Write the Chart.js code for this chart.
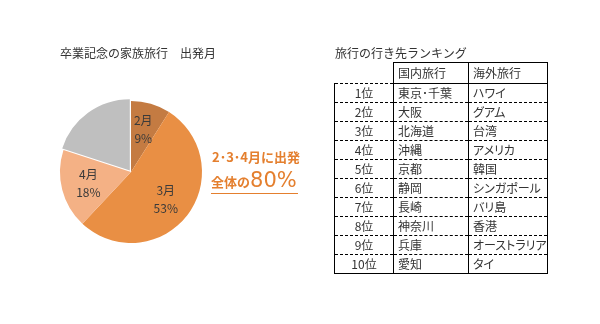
<!DOCTYPE html>
<html lang="ja">
<head>
<meta charset="utf-8">
<script src="https://cdn.jsdelivr.net/npm/chart.js@4"></script>
<style>
    html, body { margin: 0; padding: 0; background: #fff; }
    body { width: 600px; height: 324px; position: relative; overflow: hidden;
           font-family: "Noto Sans CJK JP", sans-serif; color: #333; }
    #pie { position: absolute; left: 0; top: 0; }
    .title { position: absolute; font-size: 12px; line-height: 14px; white-space: nowrap; }
    #pie-title { left: 60px; top: 46px; }
    #rank-title { left: 335px; top: 46px; }
    #note1 { position: absolute; left: 212px; top: 149px; font-size: 13px; font-weight: bold;
             color: #e47f2e; white-space: nowrap; line-height: 16px; }
    #note2 { position: absolute; left: 211px; top: 169px; color: #e47f2e; white-space: nowrap;
             border-bottom: 1.5px solid #e47f2e; line-height: 22px; padding-right: 1px; }
    #note2 .s { font-size: 13px; font-weight: bold; }
    #note2 .b { font-family: "DejaVu Sans", sans-serif; font-size: 21px; }
    table { position: absolute; left: 334px; top: 62px; border-collapse: collapse;
            table-layout: fixed; font-size: 12px; color: #333; font-feature-settings: "palt"; }
    td { padding: 0 0 0 4px; height: 18px; line-height: 18px; white-space: nowrap;
         border-left: 1px solid #000; border-right: 1px solid #000;
         border-top: 1px dashed #000; border-bottom: 1px dashed #000; }
    tr.head td { height: 20px; border-top: 1px solid #000; border-bottom: 1px solid #000; }
    tr.head td.blank { border: none; }
    tr:last-child td { border-bottom: 1px solid #000; }
    td.rank { text-align: center; padding: 0; }
</style>
</head>
<body>
<canvas id="pie" width="600" height="324"></canvas>
<div class="title" id="pie-title">卒業記念の家族旅行　出発月</div>
<div class="title" id="rank-title">旅行の行き先ランキング</div>
<div id="note1">2･3･4月に出発</div>
<div id="note2"><span class="s">全体の</span><span class="b">80%</span></div>
<table id="rank">
    <colgroup><col style="width:59px"><col style="width:75px"><col style="width:76px"></colgroup>
    <tbody></tbody>
</table>
<script>
// 出発月の割合 (%)
const months = ['2月', '3月', '4月', 'その他'];
const shares = [9, 53, 18, 20];
const sliceColors = ['#c47b42', '#e98f44', '#f4b185', '#bfbfbf'];

// 行き先ランキング
const ranks = ['1位', '2位', '3位', '4位', '5位', '6位', '7位', '8位', '9位', '10位'];
const domestic = ['東京･千葉', '大阪', '北海道', '沖縄', '京都', '静岡', '長崎', '神奈川', '兵庫', '愛知'];
const overseas = ['ハワイ', 'グアム', '台湾', 'アメリカ', '韓国', 'シンガポール', 'バリ島', '香港', 'オーストラリア', 'タイ'];
const columnHeads = ['', '国内旅行', '海外旅行'];

// ランキング表
const tbody = document.querySelector('#rank tbody');
let html = '<tr class="head"><td class="blank"></td><td>' + columnHeads[1] + '</td><td>' + columnHeads[2] + '</td></tr>';
ranks.forEach((r, i) => {
    html += '<tr><td class="rank">' + r + '</td><td>' + domestic[i] + '</td><td>' + overseas[i] + '</td></tr>';
});
tbody.innerHTML = html;

// スライス内のラベル (月 + %)
const sliceLabels = {
    id: 'sliceLabels',
    afterDatasetsDraw(chart) {
        const ctx = chart.ctx;
        const data = chart.data.datasets[0].data;
        const total = data.reduce((a, b) => a + b, 0);
        ctx.save();
        ctx.fillStyle = '#3a3a3a';
        ctx.font = '12px "Noto Sans CJK JP"';
        ctx.textAlign = 'center';
        ctx.textBaseline = 'middle';
        chart.getDatasetMeta(0).data.forEach((arc, i) => {
            if (chart.data.labels[i] === 'その他') return;
            const p = arc.getProps(['x', 'y', 'startAngle', 'endAngle', 'outerRadius'], true);
            const mid = (p.startAngle + p.endAngle) / 2;
            const r = p.outerRadius * 0.62;
            const cx = p.x + Math.cos(mid) * r;
            const cy = p.y + Math.sin(mid) * r;
            ctx.fillText(chart.data.labels[i], cx, cy - 9);
            ctx.fillText(Math.round(data[i] / total * 100) + '%', cx, cy + 9);
        });
        ctx.restore();
    }
};

new Chart(document.getElementById('pie'), {
    type: 'pie',
    data: {
        labels: months,
        datasets: [{
            data: shares,
            backgroundColor: sliceColors,
            borderWidth: 0,
            offset: [0, 0, 0, 8]
        }]
    },
    options: {
        responsive: false,
        animation: false,
        devicePixelRatio: 1,
        radius: 71,
        layout: { padding: { left: 50, right: 388, top: 90, bottom: 70 } },
        plugins: {
            legend: { display: false },
            tooltip: { enabled: false }
        }
    },
    plugins: [sliceLabels]
});
</script>
</body>
</html>
